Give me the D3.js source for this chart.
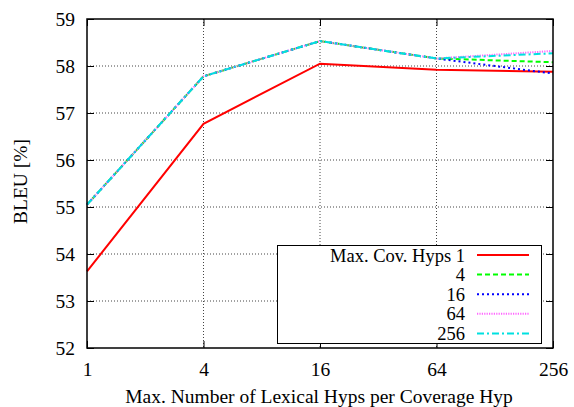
<!DOCTYPE html>
<html><head><meta charset="utf-8">
<script src="https://cdn.jsdelivr.net/npm/d3@7"></script>
<style>body{margin:0;background:#fff}svg{display:block}</style>
</head><body><svg id="c" width="574" height="407" font-family="'Liberation Serif', 'Times New Roman', serif"></svg>
<script>
const xValues = [1, 4, 16, 64, 256];
const xTickLabels = ["1", "4", "16", "64", "256"];
const yTicks = [52, 53, 54, 55, 56, 57, 58, 59];
const seriesNames = ["Max. Cov. Hyps 1", "4", "16", "64", "256"];
const hyps1 = [53.63, 56.77, 58.05, 57.92, 57.88];
const hyps4 = [55.05, 57.78, 58.53, 58.16, 58.08];
const hyps16 = [55.05, 57.78, 58.53, 58.16, 57.84];
const hyps64 = [55.05, 57.78, 58.53, 58.16, 58.32];
const hyps256 = [55.05, 57.78, 58.53, 58.16, 58.27];
const seriesColors = ["#ff0000", "#00ff00", "#0000ff", "#ff66ff", "#00e0e0"];
const seriesDash = ["", "5,3", "2,3", "1.2,1.2", "7,3,2,3"];
const FONT = "'Liberation Serif', 'Times New Roman', serif";
const FS = 19.5;

const svg = d3.select("#c");
const L = 87, R = 553, T = 19, B = 348;
const x = d3.scaleLog().base(2).domain([1, 256]).range([L, R]);
const y = d3.scaleLinear().domain([52, 59]).range([B, T]);

// grid
const g = svg.append("g");
g.selectAll(".gy").data(yTicks.slice(1, -1)).join("line")
  .attr("x1", L).attr("x2", R).attr("y1", d => y(d)).attr("y2", d => y(d))
  .attr("stroke", "#444").attr("stroke-width", 1).attr("stroke-dasharray", "1,2");
g.selectAll(".gx").data(xValues.slice(1, -1)).join("line")
  .attr("y1", T).attr("y2", B).attr("x1", d => x(d)).attr("x2", d => x(d))
  .attr("stroke", "#444").attr("stroke-width", 1).attr("stroke-dasharray", "1,2");

// axes with inner ticks
const yAxisL = d3.axisLeft(y).tickValues(yTicks).tickFormat(d3.format("d")).tickSizeInner(-7).tickSizeOuter(0).tickPadding(12);
const yAxisR = d3.axisRight(y).tickValues(yTicks).tickSizeInner(-7).tickSizeOuter(0).tickFormat("");
const xAxisB = d3.axisBottom(x).tickValues(xValues).tickFormat((d, i) => xTickLabels[i]).tickSizeInner(-7).tickSizeOuter(0).tickPadding(14);
const xAxisT = d3.axisTop(x).tickValues(xValues).tickFormat("").tickSizeInner(-7).tickSizeOuter(0);
function style(sel){ sel.attr("font-family", FONT).attr("font-size", FS); sel.select(".domain").remove(); sel.selectAll("line").attr("stroke","#000"); sel.selectAll("text").attr("fill","#000"); }
svg.append("g").attr("transform", `translate(${L},0)`).call(yAxisL).call(style);
svg.append("g").attr("transform", `translate(${R},0)`).call(yAxisR).call(style);
svg.append("g").attr("transform", `translate(0,${B})`).call(xAxisB).call(style);
svg.append("g").attr("transform", `translate(0,${T})`).call(xAxisT).call(style);

// series
const allSeries = [hyps1, hyps4, hyps16, hyps64, hyps256];
const line = d3.line().x((d, i) => x(xValues[i])).y(d => y(d));
allSeries.forEach((s, k) => {
  svg.append("path").datum(s).attr("d", line).attr("fill", "none")
    .attr("stroke", seriesColors[k]).attr("stroke-width", 2)
    .attr("stroke-dasharray", seriesDash[k] || null);
});

// frame
svg.append("rect").attr("x", L).attr("y", T).attr("width", R - L).attr("height", B - T)
  .attr("fill", "none").attr("stroke", "#000").attr("stroke-width", 1.5);

// legend
const lg = svg.append("g").attr("font-family", FONT).attr("font-size", 18.5);
lg.append("rect").attr("x", 277.5).attr("y", 245.5).attr("width", 264).attr("height", 98)
  .attr("fill", "#fff").attr("stroke", "#000").attr("stroke-width", 1);
seriesNames.forEach((n, k) => {
  const yy = 255 + k * 19.6;
  lg.append("text").attr("x", 465).attr("y", yy + 6.5).attr("text-anchor", "end").attr("fill", "#000").text(n);
  lg.append("line").attr("x1", 477).attr("x2", 529).attr("y1", yy).attr("y2", yy)
    .attr("stroke", seriesColors[k]).attr("stroke-width", 2).attr("stroke-dasharray", seriesDash[k] || null);
});

// titles
svg.append("text").attr("x", (L + R) / 2 - 1).attr("y", 403).attr("text-anchor", "middle")
  .attr("font-family", FONT).attr("font-size", FS).attr("fill", "#000")
  .text("Max. Number of Lexical Hyps per Coverage Hyp");
svg.append("text").attr("transform", `translate(27,${(T + B) / 2 - 2}) rotate(-90)`).attr("text-anchor", "middle")
  .attr("font-family", FONT).attr("font-size", FS).attr("fill", "#000")
  .text("BLEU [%]");
</script></body></html>
